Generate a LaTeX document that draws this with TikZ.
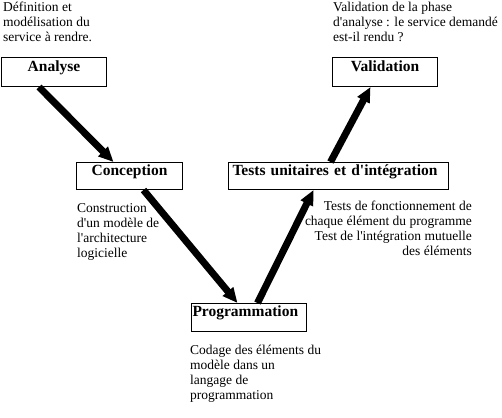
\documentclass[tikz,border=0pt]{standalone}
\usepackage{fontspec}
\setmainfont{Liberation Serif}
\usetikzlibrary{arrows.meta}

\begin{document}
\begin{tikzpicture}[x=1pt,y=-1pt,
  phase node/.style={draw,line width=1pt,rectangle,anchor=north west,inner ysep=0pt,inner xsep=0pt,font=\rmfamily\bfseries\fontsize{15.5}{18}\selectfont},
  note node/.style={inner sep=0pt,font=\rmfamily\fontsize{13.5}{15}\selectfont},
  v arrow/.style={line width=7pt,-{Triangle[length=15pt,width=13pt]}}]
                \useasboundingbox (0,0) rectangle (502,417);

                \node[phase node,text width=105pt,align=center,text height=14pt,text depth=15pt] at (1,57) (analyse) {Analyse};
                \node[phase node,text width=106pt,align=center,text height=13pt,text depth=14pt] at (76,162) (conception) {Conception};
                \node[phase node,text width=113pt,inner xsep=1pt,align=left,text height=13pt,text depth=15pt] at (191,303) (prog) {Programmation};
                \node[phase node,text width=212pt,inner xsep=4pt,align=left,text height=13pt,text depth=14pt] at (228,162) (tests) {Tests unitaires et d\textquotesingle intégration};
                \node[phase node,text width=105pt,align=center,text height=14pt,text depth=15pt] at (332,57) (validation) {Validation};

                \node[note node,anchor=north west,align=left] at (3,1.5) (def) {Définition et\\modélisation du\\service à rendre.};
                \node[note node,anchor=north west,align=left] at (333,1.5) (valid) {Validation de la phase\\d\textquotesingle analyse : le service demandé\\est-il rendu ?};
                \node[note node,anchor=north west,align=left] at (77,203.5) (constr) {Construction\\d\textquotesingle un modèle de\\l\textquotesingle architecture\\logicielle};
                \node[note node,anchor=north west,align=left] at (190,345) (codage) {Codage des éléments du\\modèle dans un\\langage de\\programmation};
                \node[note node,anchor=north east,align=right] at (472,200.5) (testdesc) {Tests de fonctionnement de\\chaque élément du programme\hspace*{5pt}\\Test de l\textquotesingle intégration mutuelle\hspace*{5pt}\\des éléments};

                \path
                    ([xshift=-15pt]analyse.south) edge[v arrow] ([xshift=-16pt]conception.north)
                    ([xshift=14pt]conception.south) edge[v arrow] ([xshift=-11.5pt]prog.north)
                    ([xshift=8.5pt]prog.north) edge[v arrow] ([xshift=-25pt]tests.south)
                    ([xshift=-8pt]tests.north) edge[v arrow] ([xshift=-14.5pt]validation.south)
                    ;
            \end{tikzpicture}
\end{document}
